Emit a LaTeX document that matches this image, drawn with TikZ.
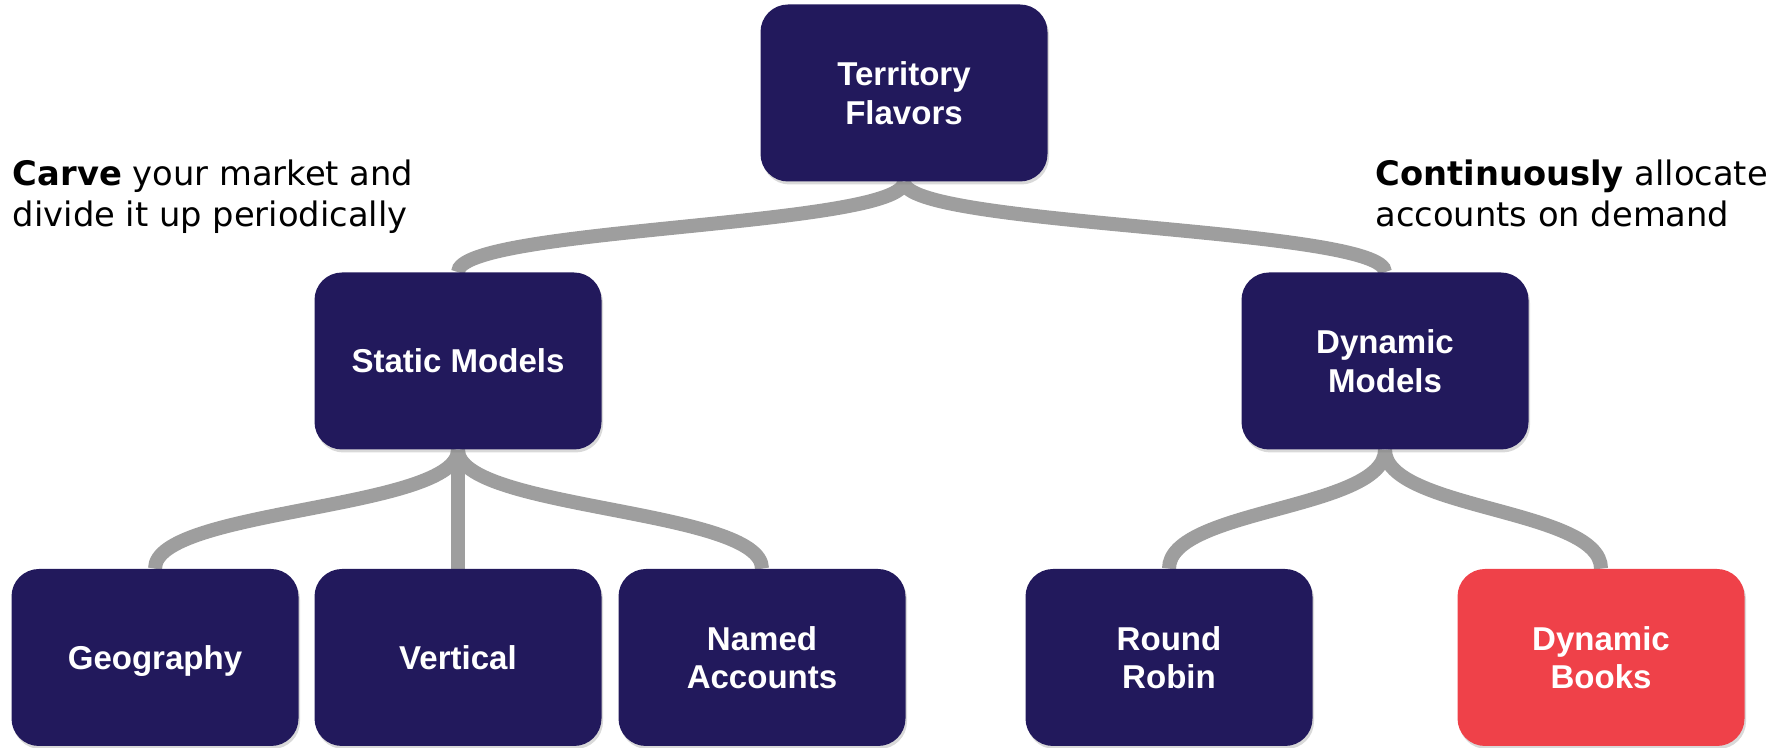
\documentclass[tikz,border=0pt]{standalone}
\usepackage{fontspec}
\setmainfont{Liberation Sans}
\newfontfamily\notefont{DejaVu Sans}
\usepackage{xcolor}
\usetikzlibrary{backgrounds, shadows}
\definecolor{flavorNavy}{HTML}{22195C}
\definecolor{flavorRed}{HTML}{EF4149}
\definecolor{branchGray}{HTML}{9E9E9E}
\tikzset{
  flavorNode/.style={shape=rectangle, rounded corners=0.55cm, fill=flavorNavy, text=white, align=center,
    minimum width=5.74cm, minimum height=3.54cm, font=\fontsize{18.8}{21.9}\selectfont\bfseries,
    drop shadow={opacity=0.3, shadow xshift=0.03cm, shadow yshift=-0.06cm}},
  flavorNodeRED/.style={flavorNode, fill=flavorRed},
  branchLink/.style={draw=branchGray, line width=0.28cm, out=-90, in=90, distance=1.2cm},
  noteText/.style={anchor=north west, align=left, inner sep=0pt, font=\notefont\fontsize{19.2}{23.3}\selectfont}
}
\begin{document}
\begin{tikzpicture}
        \useasboundingbox (0,0) rectangle (35.66,14.96);
        \node (flavors) [flavorNode] at (18.08,13.10) {Territory\\Flavors};
        \node (static) [flavorNode] at (9.16,7.74) {Static Models};
        \node (dynamic) [flavorNode] at (27.70,7.74) {Dynamic\\Models};
        \node (geo) [flavorNode, text depth=0pt] at (3.10,1.81) {Geography};
        \node (vertical) [flavorNode] at (9.16,1.81) {Vertical};
        \node (named) [flavorNode] at (15.24,1.81) {Named\\Accounts};
        \node (robin) [flavorNode] at (23.38,1.81) {Round\\Robin};
        \node (books) [flavorNodeRED] at (32.02,1.81) {Dynamic\\Books};

        \node (carve) [noteText] at (0.25,11.76) {\textbf{Carve} your market and\\divide it up periodically};
        \node (continuous) [noteText] at (27.50,11.76) {\textbf{Continuously} allocate\\accounts on demand};

        \begin{scope}[on background layer]
         \path
    (flavors) edge [branchLink, distance=0.9cm] (static)
    (flavors) edge [branchLink, distance=0.9cm] (dynamic)
    (static) edge [branchLink] (geo)
    (static) edge [branchLink] (vertical)
    (static) edge [branchLink] (named)
    (dynamic) edge [branchLink] (robin)
    (dynamic) edge [branchLink] (books);
        \end{scope}
\end{tikzpicture}
\end{document}
